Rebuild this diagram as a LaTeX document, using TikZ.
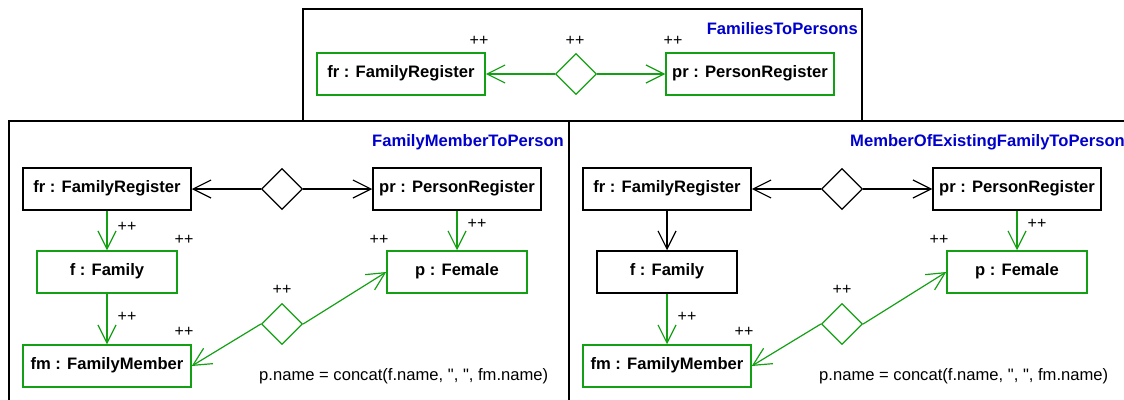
\documentclass[tikz,border=0pt]{standalone}
\usepackage{fontspec}
\setmainfont{Liberation Sans}
\newfontfamily\plainfont{Liberation Sans}[Ligatures=TeXOff]
\usetikzlibrary{arrows.meta,shapes.geometric}
\definecolor{rulegreen}{RGB}{20,160,20}
\definecolor{ruleblue}{RGB}{0,0,205}

\begin{document}
\begin{tikzpicture}[x=1pt,y=-1pt,
  obj/.style={draw, line width=1.5pt, rectangle, minimum height=42pt, inner sep=0pt,
    font=\fontsize{16.6}{20}\selectfont\bfseries, text height=0.716em, text depth=0pt},
  wide/.style={minimum width=168pt},
  narrow/.style={minimum width=140pt},
  link/.style={diamond, draw, line width=1.3pt, minimum width=41pt, minimum height=41pt,
    inner sep=0pt, aspect=1},
  conn/.style={line width=1.2pt, -{Straight Barb[length=18pt,width=18pt]}},
  created/.style={draw=rulegreen},
  pp/.style={font=\fontsize{16}{19}\selectfont, inner sep=0pt},
  rulename/.style={font=\fontsize{16.6}{20}\selectfont\bfseries, text=ruleblue, anchor=east, inner sep=0pt},
  panel/.style={draw, line width=1.3pt},
  cond/.style={font=\plainfont\fontsize{16.6}{20}\selectfont, anchor=base west, inner sep=0pt}
]
\useasboundingbox (0,0) rectangle (1124,399);
\clip (0,0) rectangle (1124,399);

% rule frames
\draw[panel] (9,121) rectangle (569,410);
\draw[panel] (569,121) rectangle (1130,410);
\draw[panel] (303,9) rectangle (862,121);

% FamiliesToPersons
\node[rulename] (t0) at (858,29) {FamiliesToPersons};
\node[obj, wide, created] (fr0) at (401,74) {fr : FamilyRegister};
\node[obj, wide, created] (pr0) at (750,74) {pr : PersonRegister};
\node[link, created] (d0) at (576,74) {};
\draw[conn, created] (d0.west) -- (fr0.east);
\draw[conn, created] (d0.east) -- (pr0.west);
\node[pp] (c0a) at (479,41) {++};
\node[pp] (c0b) at (575,41) {++};
\node[pp] (c0c) at (673,41) {++};

% FamilyMemberToPerson
\node[rulename] (t1) at (564,142) {FamilyMemberToPerson};
\node[obj, wide] (fr1) at (107,189) {fr : FamilyRegister};
\node[obj, wide] (pr1) at (457,189) {pr : PersonRegister};
\node[link] (d1) at (282,189) {};
\draw[conn] (d1.west) -- (fr1.east);
\draw[conn] (d1.east) -- (pr1.west);
\node[obj, narrow, created] (f1) at (107,272) {f : Family};
\node[obj, narrow, created] (p1) at (457,272) {p : Female};
\node[obj, wide, created] (fm1) at (107,366) {fm : FamilyMember};
\node[link, created] (d2) at (282,324) {};
\draw[conn, created] (fr1) -- (f1);
\draw[conn, created] (pr1) -- (p1);
\draw[conn, created] (f1) -- (fm1);
\draw[conn, created] (d2.west) -- (fm1.east);
\draw[conn, created] (d2.east) -- (p1.west);
\node[pp] (c1a) at (127,227) {++};
\node[pp] (c1b) at (184,240) {++};
\node[pp] (c1c) at (477,224) {++};
\node[pp] (c1d) at (379,240) {++};
\node[pp] (c1e) at (282,290) {++};
\node[pp] (c1f) at (127,317) {++};
\node[pp] (c1g) at (184,332) {++};
\node[cond] (e1) at (259,380) {p.name = concat(f.name, ", ", fm.name)};

% MemberOfExistingFamilyToPerson
\begin{scope}[xshift=560pt]
\node[rulename] (t2) at (565,142) {MemberOfExistingFamilyToPerson};
\node[obj, wide] (fr2) at (107,189) {fr : FamilyRegister};
\node[obj, wide] (pr2) at (457,189) {pr : PersonRegister};
\node[link] (d3) at (282,189) {};
\draw[conn] (d3.west) -- (fr2.east);
\draw[conn] (d3.east) -- (pr2.west);
\node[obj, narrow] (f2) at (107,272) {f : Family};
\node[obj, narrow, created] (p2) at (457,272) {p : Female};
\node[obj, wide, created] (fm2) at (107,366) {fm : FamilyMember};
\node[link, created] (d4) at (282,324) {};
\draw[conn] (fr2) -- (f2);
\draw[conn, created] (pr2) -- (p2);
\draw[conn, created] (f2) -- (fm2);
\draw[conn, created] (d4.west) -- (fm2.east);
\draw[conn, created] (d4.east) -- (p2.west);
\node[pp] (c2c) at (477,224) {++};
\node[pp] (c2d) at (379,240) {++};
\node[pp] (c2e) at (282,290) {++};
\node[pp] (c2f) at (127,317) {++};
\node[pp] (c2g) at (184,332) {++};
\node[cond] (e2) at (259,380) {p.name = concat(f.name, ", ", fm.name)};
\end{scope}
\end{tikzpicture}
\end{document}
